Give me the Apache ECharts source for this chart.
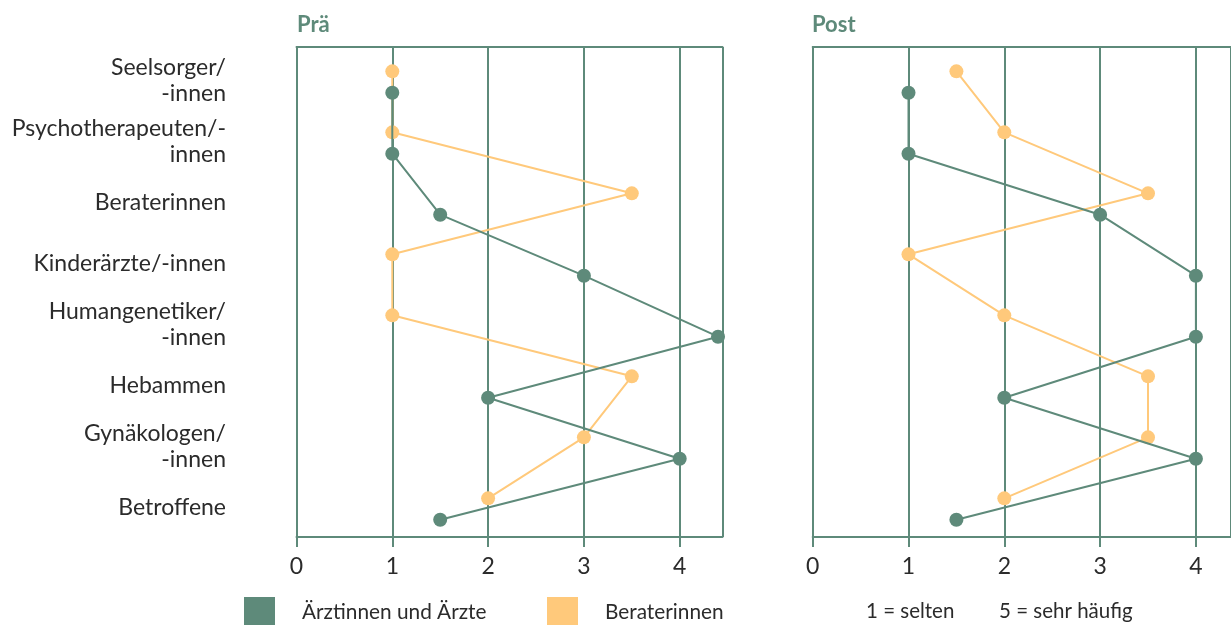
<!DOCTYPE html>
<html>
<head>
<meta charset="utf-8">
<script src="https://cdn.jsdelivr.net/npm/echarts@6/dist/echarts.min.js"></script>
<style>
html,body{margin:0;padding:0;background:#fff;}
#chart{width:1231px;height:625px;}
</style>
</head>
<body>
<div id="chart"></div>
<script>
// ---- data ----
const categories = ['Seelsorger/\n-innen', 'Psychotherapeuten/-\ninnen', 'Beraterinnen', 'Kinderärzte/-innen', 'Humangenetiker/\n-innen', 'Hebammen', 'Gynäkologen/\n-innen', 'Betroffene'];
const seriesNames = ['Ärztinnen und Ärzte', 'Beraterinnen'];
const panelTitles = ['Prä', 'Post'];
const praeAerzte = [1, 1, 1.5, 3, 4.4, 2, 4, 1.5];
const praeBerater = [1, 1, 3.5, 1, 1, 3.5, 3, 2];
const postAerzte = [1, 1, 3, 4, 4, 2, 4, 1.5];
const postBerater = [1.5, 2, 3.5, 1, 2, 3.5, 3.5, 2];
const scaleNote = ['1 = selten', '5 = sehr häufig'];

// ---- style ----
const GREEN = '#5e8a7a';
const ORANGE = '#ffc97b';
const TEXT = '#2b2b2b';
const FONT = 'Lato';
const OFF = 0.175;
const UNIT = 95.8;            // px per x unit
const PRAE_LEFT = 296.5, POST_LEFT = 812.7, PLOT_W = 426;
const PRAE_MAX = PLOT_W / UNIT;
const POST_MAX = (1231 - POST_LEFT) / UNIT;   // right panel cut at the canvas edge

function pts(vals, off) { return vals.map((v, i) => [v, i + off]); }

const grids = [
  { left: PRAE_LEFT, top: 47, height: 490, width: PLOT_W },
  { left: POST_LEFT, top: 47, height: 490, right: 0 },
  { left: 20, width: 276.5, top: 50.5, height: 488 }
];

function xBottom(g, max) {
  return {
    gridIndex: g, type: 'value', min: 0, max: max, interval: 1, position: 'bottom',
    axisLine: { show: true, onZero: false, lineStyle: { color: GREEN, width: 2 } },
    axisTick: { show: true, length: 10, lineStyle: { color: GREEN, width: 2 } },
    axisLabel: { show: true, color: TEXT, fontFamily: FONT, fontSize: 23, margin: 18.5, showMaxLabel: false },
    splitLine: { show: true, lineStyle: { color: GREEN, width: 2 } }
  };
}
function xTop(g, max) {
  return {
    gridIndex: g, type: 'value', min: 0, max: max, position: 'top',
    axisLine: { show: true, onZero: false, lineStyle: { color: GREEN, width: 2 } },
    axisTick: { show: false }, axisLabel: { show: false }, splitLine: { show: false }
  };
}
function yVal(g) {
  return {
    gridIndex: g, type: 'value', min: -0.574, max: 7.459, inverse: true,
    axisLine: { show: true, onZero: false, lineStyle: { color: GREEN, width: 2 } },
    axisTick: { show: false }, axisLabel: { show: false }, splitLine: { show: false }
  };
}

function lineSeries(name, vals, color, xi, yi, off, z) {
  return {
    name: name, type: 'line', xAxisIndex: xi, yAxisIndex: yi, data: pts(vals, off),
    symbol: 'circle', symbolSize: 14, z: z,
    lineStyle: { color: color, width: 2 }, itemStyle: { color: color },
    emphasis: { disabled: true }
  };
}

function legendFor(name, left) {
  return {
    left: left, top: 597, padding: 0, itemWidth: 31, itemHeight: 31, icon: 'rect', data: [name],
    textStyle: { color: TEXT, fontFamily: FONT, fontSize: 20.8, padding: [0, 0, 0, 22] }, selectedMode: false
  };
}

const chart = echarts.init(document.getElementById('chart'), null, { renderer: 'canvas' });
chart.setOption({
  animation: false,
  grid: grids,
  xAxis: [xBottom(0, PRAE_MAX), xTop(0, PRAE_MAX), xBottom(1, POST_MAX), xTop(1, POST_MAX),
    { gridIndex: 2, type: 'value', show: false }],
  yAxis: [yVal(0), yVal(1),
    { gridIndex: 2, type: 'category', data: categories, inverse: true,
      axisLine: { show: false }, axisTick: { show: false }, splitLine: { show: false },
      axisLabel: { color: TEXT, fontFamily: FONT, fontSize: 23, lineHeight: 26, margin: 70.5, align: 'right' } }],
  legend: [legendFor(seriesNames[0], 244), legendFor(seriesNames[1], 547)],
  graphic: [
    { type: 'text', left: 297, top: 14, style: { text: panelTitles[0], fill: GREEN, font: 'bold 22px Lato' } },
    { type: 'text', left: 812, top: 14, style: { text: panelTitles[1], fill: GREEN, font: 'bold 22px Lato' } },
    { type: 'text', left: 866, top: 601, style: { text: scaleNote[0], fill: TEXT, font: '20.5px Lato' } },
    { type: 'text', left: 999, top: 601, style: { text: scaleNote[1], fill: TEXT, font: '20.5px Lato' } }
  ],
  series: [
    lineSeries(seriesNames[1], praeBerater, ORANGE, 0, 0, -OFF, 3),
    lineSeries(seriesNames[0], praeAerzte, GREEN, 0, 0, OFF, 4),
    lineSeries(seriesNames[1], postBerater, ORANGE, 2, 1, -OFF, 3),
    lineSeries(seriesNames[0], postAerzte, GREEN, 2, 1, OFF, 4)
  ]
});
</script>
</body>
</html>
